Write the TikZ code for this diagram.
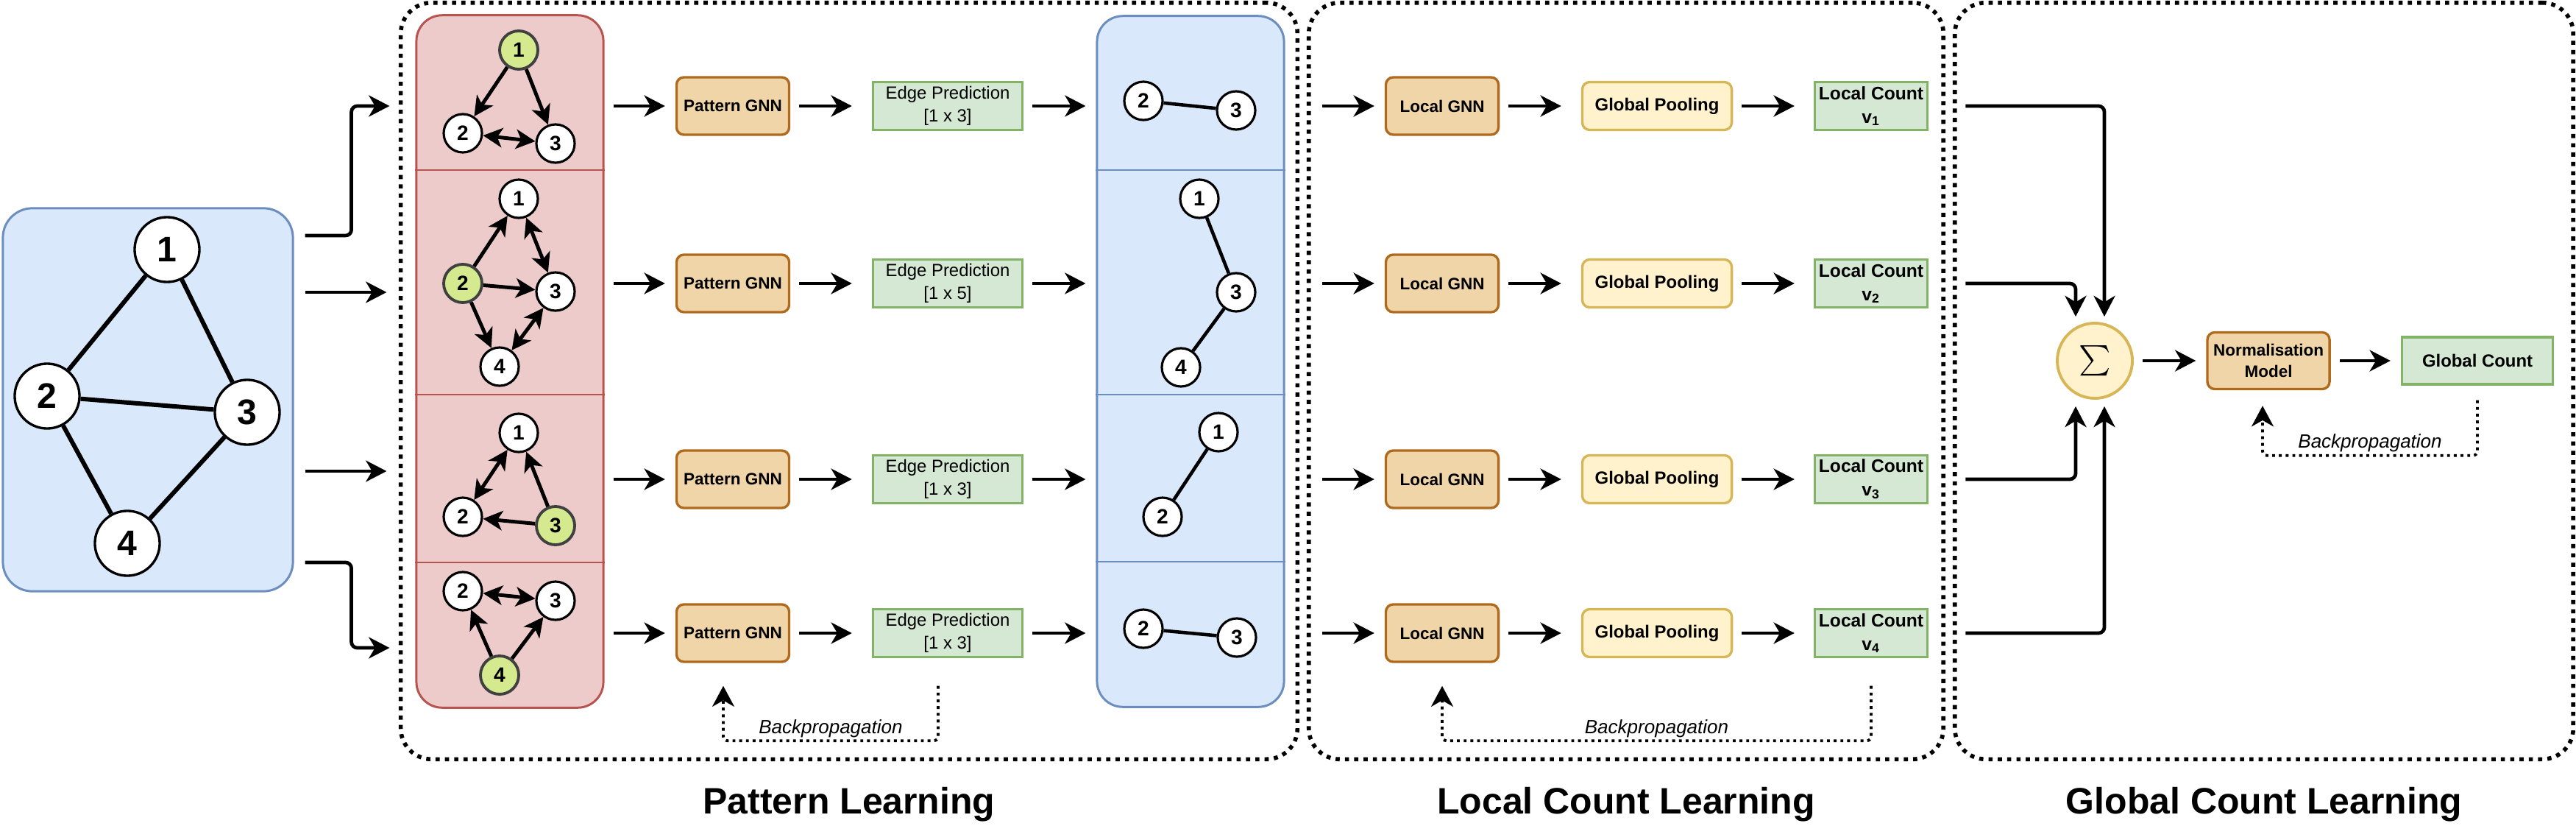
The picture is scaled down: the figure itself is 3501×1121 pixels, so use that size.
\documentclass[tikz,border=0pt]{standalone}
\usepackage{fontspec}
\setmainfont{Liberation Sans}
\usepackage{graphicx}
\usetikzlibrary{arrows.meta,calc,positioning}
\definecolor{graphfill}{HTML}{DAE8FC}
\definecolor{graphline}{HTML}{6C8EBF}
\definecolor{pattfill}{HTML}{EDCBCB}
\definecolor{pattline}{HTML}{B85450}
\definecolor{gnnfill}{HTML}{F0D5A8}
\definecolor{gnnline}{HTML}{B06A1E}
\definecolor{poolfill}{HTML}{FFF2CC}
\definecolor{poolline}{HTML}{D6B656}
\definecolor{countfill}{HTML}{D5E8D4}
\definecolor{countline}{HTML}{82B366}
\definecolor{seedfill}{HTML}{D5E98F}
\definecolor{seedline}{HTML}{404040}
\tikzset{
    big vertex/.style = {
        circle, draw, fill=white,
        line width=0.95pt,
        minimum size=0.88cm, inner sep=0pt,
        font=\fontsize{13.7}{14}\selectfont\bfseries,
        },
    small vertex/.style = {
        circle, draw, fill=white,
        line width=0.9pt,
        minimum size=0.52cm, inner sep=0pt,
        font=\fontsize{8}{8}\selectfont\bfseries,
        },
    seed vertex/.style = {
        fill=seedfill, draw=seedline,
        line width=1.1pt,
        },
    dir edge/.style = {
        line width=1.4pt,
        -{Stealth[length=7.5pt, width=7.5pt, inset=2pt]},
        },
    bidir edge/.style = {
        line width=1.4pt,
        {Stealth[length=7.5pt, width=7.5pt, inset=2pt]}-{Stealth[length=7.5pt, width=7.5pt, inset=2pt]},
        },
    flow/.style = {
        draw, line width=1.35pt,
        -{Stealth[length=8pt, width=8.2pt, inset=2.4pt]},
        shorten <=0.12cm, shorten >=0.14cm,
        },
    backprop/.style = {
        draw, line width=1.1pt,
        dash pattern=on 1.1pt off 1.5pt,
        rounded corners=0.06cm,
        -{Stealth[length=8pt, width=8.5pt, inset=2.4pt]},
        },
    bp label/.style = {
        anchor=base, yshift=0.1cm,
        font=\fontsize{7.4}{8}\selectfont\itshape,
        },
    gnn box/.style = {
        rectangle, rounded corners=0.1cm,
        draw=gnnline, fill=gnnfill, line width=0.95pt,
        minimum width=1.53cm, minimum height=0.78cm, inner sep=0pt,
        align=center, font=\fontsize{6.4}{8.1}\selectfont\bfseries,
        },
    pred box/.style = {
        rectangle,
        draw=countline, fill=countfill, line width=0.95pt,
        minimum width=2.03cm, minimum height=0.65cm, inner sep=0pt,
        align=center, font=\fontsize{6.8}{8.7}\selectfont,
        },
    pool box/.style = {
        rectangle, rounded corners=0.1cm,
        draw=poolline, fill=poolfill, line width=0.95pt,
        minimum width=2.03cm, minimum height=0.65cm, inner sep=0pt,
        font=\fontsize{6.8}{8.7}\selectfont\bfseries,
        },
    count box/.style = {
        rectangle,
        draw=countline, fill=countfill, line width=0.95pt,
        minimum width=1.53cm, minimum height=0.65cm, inner sep=0pt,
        align=center, font=\fontsize{7}{9.1}\selectfont\bfseries,
        },
    stage/.style = {
        rectangle, rounded corners=0.42cm,
        draw, line width=1.6pt,
        dash pattern=on 1.6pt off 2pt,
        inner sep=0pt,
        },
    stage title/.style = {
        anchor=base,
        font=\fontsize{14.2}{16}\selectfont\bfseries,
        },
}

\begin{document}
\begin{tikzpicture}[x=0.01cm, y=-0.01cm]
    \useasboundingbox (0,0) rectangle (3501,1121);

    % stages
    \node[stage, minimum width=12.18cm, minimum height=10.27cm] (patsec) at (1154,517.5) {};
    \node[stage, minimum width=8.62cm, minimum height=10.27cm] (locsec) at (2210,517.5) {};
    \node[stage, minimum width=8.40cm, minimum height=10.27cm] (glosec) at (3077,517.5) {};
    \node[stage title] (patttl) at ($(patsec.south)+(0,71)$) {Pattern Learning};
    \node[stage title] (locttl) at ($(locsec.south)+(0,71)$) {Local Count Learning};
    \node[stage title] (glottl) at ($(glosec.south)+(0,71)$) {Global Count Learning};

    % input graph
    \node[draw=graphline, fill=graphfill, line width=0.85pt, rounded corners=0.4cm,
          minimum width=3.94cm, minimum height=5.20cm] (inbox) at (201,543) {};
    \node[big vertex] (n1) at (227,339) {1};
    \node[big vertex] (n2) at (64,538) {2};
    \node[big vertex] (n3) at (336,560) {3};
    \node[big vertex] (n4) at (173,738) {4};
    \begin{scope}[line width=1.7pt]
        \draw (n1) -- (n2);
        \draw (n1) -- (n3);
        \draw (n2) -- (n3);
        \draw (n2) -- (n4);
        \draw (n3) -- (n4);
    \end{scope}

    % pattern column
    \node[draw=pattline, fill=pattfill, line width=0.85pt, rounded corners=0.35cm,
          minimum width=2.54cm, minimum height=9.40cm] (pcol) at (693,491) {};
    \draw[pattline, line width=0.7pt] (pcol.west |- 0,231) -- (pcol.east |- 0,231);
    \draw[pattline, line width=0.7pt] (pcol.west |- 0,536) -- (pcol.east |- 0,536);
    \draw[pattline, line width=0.7pt] (pcol.west |- 0,764) -- (pcol.east |- 0,764);

    \node[small vertex, seed vertex] (a1) at (705,68) {1};
    \node[small vertex] (a2) at (629,181) {2};
    \node[small vertex] (a3) at (755,195) {3};
    \draw[dir edge] (a1) -- (a2);
    \draw[dir edge] (a1) -- (a3);
    \draw[bidir edge] (a2) -- (a3);

    \node[small vertex] (b1) at (705,270) {1};
    \node[small vertex, seed vertex] (b2) at (629,385) {2};
    \node[small vertex] (b3) at (755,396) {3};
    \node[small vertex] (b4) at (679,498) {4};
    \draw[dir edge] (b2) -- (b1);
    \draw[dir edge] (b2) -- (b3);
    \draw[dir edge] (b2) -- (b4);
    \draw[bidir edge] (b1) -- (b3);
    \draw[bidir edge] (b3) -- (b4);

    \node[small vertex] (c1) at (705,588) {1};
    \node[small vertex] (c2) at (629,702) {2};
    \node[small vertex, seed vertex] (c3) at (755,714) {3};
    \draw[dir edge] (c3) -- (c1);
    \draw[dir edge] (c3) -- (c2);
    \draw[bidir edge] (c1) -- (c2);

    \node[small vertex] (d2) at (629,803) {2};
    \node[small vertex] (d3) at (755,816) {3};
    \node[small vertex, seed vertex] (d4) at (679,917) {4};
    \draw[dir edge] (d4) -- (d2);
    \draw[dir edge] (d4) -- (d3);
    \draw[bidir edge] (d2) -- (d3);

    % predicted edges column
    \node[draw=graphline, fill=graphfill, line width=0.85pt, rounded corners=0.35cm,
          minimum width=2.54cm, minimum height=9.38cm] (bcol) at (1618,491) {};
    \draw[graphline, line width=0.6pt] (bcol.west |- 0,231) -- (bcol.east |- 0,231);
    \draw[graphline, line width=0.6pt] (bcol.west |- 0,536) -- (bcol.east |- 0,536);
    \draw[graphline, line width=0.6pt] (bcol.west |- 0,763) -- (bcol.east |- 0,763);

    \node[small vertex] (e2) at (1554,137) {2};
    \node[small vertex] (e3) at (1680,150) {3};
    \node[small vertex] (f1) at (1630,270) {1};
    \node[small vertex] (f3) at (1680,397) {3};
    \node[small vertex] (f4) at (1605,499) {4};
    \node[small vertex] (g1) at (1656,587) {1};
    \node[small vertex] (g2) at (1580,702) {2};
    \node[small vertex] (h2) at (1554,854) {2};
    \node[small vertex] (h3) at (1681,866) {3};
    \begin{scope}[line width=1.3pt]
        \draw (e2) -- (e3);
        \draw (f1) -- (f3);
        \draw (f3) -- (f4);
        \draw (g1) -- (g2);
        \draw (h2) -- (h3);
    \end{scope}

    % rows
    \node[gnn box] (pgnn1) at (996,144) {Pattern GNN};
    \node[gnn box] (pgnn2) at (996,385) {Pattern GNN};
    \node[gnn box] (pgnn3) at (996,651) {Pattern GNN};
    \node[gnn box] (pgnn4) at (996,860) {Pattern GNN};
    \node[pred box] (ep1) at (1288,144) {Edge Prediction\\{[1 x 3]}};
    \node[pred box] (ep2) at (1288,385) {Edge Prediction\\{[1 x 5]}};
    \node[pred box] (ep3) at (1288,651) {Edge Prediction\\{[1 x 3]}};
    \node[pred box] (ep4) at (1288,860) {Edge Prediction\\{[1 x 3]}};
    \node[gnn box] (lgnn1) at (1960,144) {Local GNN};
    \node[gnn box] (lgnn2) at (1960,385) {Local GNN};
    \node[gnn box] (lgnn3) at (1960,651) {Local GNN};
    \node[gnn box] (lgnn4) at (1960,860) {Local GNN};
    \node[pool box] (pool1) at (2252,144) {Global Pooling};
    \node[pool box] (pool2) at (2252,385) {Global Pooling};
    \node[pool box] (pool3) at (2252,651) {Global Pooling};
    \node[pool box] (pool4) at (2252,860) {Global Pooling};
    \node[count box] (lc1) at (2543,144) {Local Count\\v\textsubscript{1}};
    \node[count box] (lc2) at (2543,385) {Local Count\\v\textsubscript{2}};
    \node[count box] (lc3) at (2543,651) {Local Count\\v\textsubscript{3}};
    \node[count box] (lc4) at (2543,860) {Local Count\\v\textsubscript{4}};

    % global part
    \node[circle, draw=poolline, fill=poolfill, line width=1.1pt, minimum size=1.02cm, inner sep=0pt] (sum) at (2847,490) {\scalebox{1.17}{$\sum$}};
    \node[gnn box, minimum width=1.66cm, minimum height=0.77cm] (norm) at (3083,490) {Normalisation\\Model};
    \node[pred box, minimum width=2.05cm, minimum height=0.64cm, font=\fontsize{6.8}{8.7}\selectfont\bfseries] (gcount) at (3367,490) {Global Count};

    % input arrows
    \coordinate (src1) at ($(inbox.east)+(15,-223)$);
    \coordinate (src2) at ($(inbox.east)+(15,-146)$);
    \coordinate (src3) at ($(inbox.east)+(15,97)$);
    \coordinate (src4) at ($(inbox.east)+(15,221)$);
    \coordinate (dst4) at ([xshift=-0.35cm]pcol.west |- 0,880);
    \draw[flow, shorten <=0pt, shorten >=0.35cm, rounded corners=0.08cm] (src1) -- ++(63,0) |- (pcol.west |- pgnn1);
    \draw[flow, shorten <=0pt, shorten >=0.39cm] (src2) -- (src2 -| pcol.west);
    \draw[flow, shorten <=0pt, shorten >=0.39cm] (src3) -- (src3 -| pcol.west);
    \draw[flow, shorten <=0pt, shorten >=0pt, rounded corners=0.08cm] (src4) -- ++(63,0) |- (dst4);

    % row arrows
    \draw[flow] (pcol.east |- pgnn1) -- (pgnn1);
    \draw[flow] (pcol.east |- pgnn2) -- (pgnn2);
    \draw[flow] (pcol.east |- pgnn3) -- (pgnn3);
    \draw[flow] (pcol.east |- pgnn4) -- (pgnn4);
    \draw[flow, shorten >=0.27cm] (pgnn1) -- (ep1);
    \draw[flow, shorten >=0.27cm] (pgnn2) -- (ep2);
    \draw[flow, shorten >=0.27cm] (pgnn3) -- (ep3);
    \draw[flow, shorten >=0.27cm] (pgnn4) -- (ep4);
    \draw[flow] (ep1) -- (ep1 -| bcol.west);
    \draw[flow] (ep2) -- (ep2 -| bcol.west);
    \draw[flow] (ep3) -- (ep3 -| bcol.west);
    \draw[flow] (ep4) -- (ep4 -| bcol.west);
    \draw[flow, shorten <=0.5cm] (bcol.east |- lgnn1) -- (lgnn1);
    \draw[flow, shorten <=0.5cm] (bcol.east |- lgnn2) -- (lgnn2);
    \draw[flow, shorten <=0.5cm] (bcol.east |- lgnn3) -- (lgnn3);
    \draw[flow, shorten <=0.5cm] (bcol.east |- lgnn4) -- (lgnn4);
    \draw[flow, shorten >=0.27cm] (lgnn1) -- (pool1);
    \draw[flow, shorten >=0.27cm] (lgnn2) -- (pool2);
    \draw[flow, shorten >=0.27cm] (lgnn3) -- (pool3);
    \draw[flow, shorten >=0.27cm] (lgnn4) -- (pool4);
    \draw[flow, shorten >=0.26cm] (pool1) -- (lc1);
    \draw[flow, shorten >=0.26cm] (pool2) -- (lc2);
    \draw[flow, shorten >=0.26cm] (pool3) -- (lc3);
    \draw[flow, shorten >=0.26cm] (pool4) -- (lc4);

    % into the sum
    \draw[flow, rounded corners=0.08cm, shorten <=0.5cm, shorten >=0.07cm] (lc1.east) -| ([xshift=0.13cm]sum.north);
    \draw[flow, rounded corners=0.08cm, shorten <=0.5cm, shorten >=0.07cm] (lc2.east) -| ([xshift=-0.26cm]sum.north);
    \draw[flow, rounded corners=0.08cm, shorten <=0.5cm, shorten >=0.09cm] (lc3.east) -| ([xshift=-0.26cm]sum.south);
    \draw[flow, rounded corners=0.08cm, shorten <=0.5cm, shorten >=0.09cm] (lc4.east) -| ([xshift=0.13cm]sum.south);
    \draw[flow] (sum) -- (norm);
    \draw[flow] (norm) -- (gcount);

    % backpropagation
    \draw[backprop, shorten <=0.375cm, shorten >=0.31cm] ([xshift=-0.13cm]ep4.south) -- ++(0,112)
        -| node[pos=0.25, bp label] {Backpropagation} ([xshift=-0.13cm]pgnn4.south);
    \draw[backprop, shorten <=0.375cm, shorten >=0.31cm] (lc4.south) -- ++(0,112)
        -| node[pos=0.25, bp label] {Backpropagation} (lgnn4.south);
    \draw[backprop, shorten <=0.2cm, shorten >=0.21cm] (gcount.south) -- ++(0,95)
        -| node[pos=0.25, bp label] {Backpropagation} ([xshift=-0.08cm]norm.south);

\end{tikzpicture}
\end{document}
